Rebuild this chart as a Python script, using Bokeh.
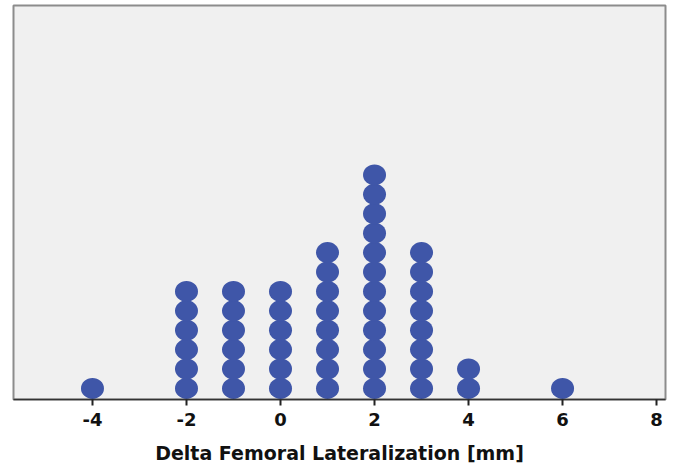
from bokeh.plotting import figure
from bokeh.models import ColumnDataSource, FixedTicker, Range1d
from bokeh.embed import file_html
from bokeh.resources import INLINE

# data: value (mm) and number of cases at that value
values = [-4, -2, -1, 0, 1, 2, 3, 4, 6]
counts = [1, 6, 6, 6, 8, 12, 8, 2, 1]
tick_values = [-4, -2, 0, 2, 4, 6, 8]
tick_labels = ["-4", "-2", "0", "2", "4", "6", "8"]

xs, ys = [], []
for v, c in zip(values, counts):
    for k in range(c):
        xs.append(v)
        ys.append(k + 0.57)
src = ColumnDataSource(dict(x=xs, y=ys))

p = figure(width=668, height=466, output_backend="svg", toolbar_location=None,
           x_range=Range1d(-5.68, 8.19), y_range=Range1d(0, 20.3),
           min_border_left=13, min_border_right=3, min_border_top=5, min_border_bottom=0)
p.background_fill_color = "#f0f0f0"
p.border_fill_color = "white"
p.outline_line_color = "#8c8c8c"
p.outline_line_width = 2
p.grid.visible = False
p.yaxis.visible = False

p.ellipse(x="x", y="y", width=23, height=21, width_units="screen", height_units="screen",
          source=src, fill_color="#3f56a8", line_color="#3f56a8", line_width=0)

ax = p.xaxis[0]
ax.ticker = FixedTicker(ticks=tick_values)
ax.major_label_overrides = {t: s for t, s in zip(tick_values, tick_labels)}
ax.minor_tick_line_color = None
ax.axis_line_color = "#333333"
ax.axis_line_width = 1.5
ax.major_tick_line_color = "#222222"
ax.major_tick_line_width = 2
ax.major_tick_out = 6
ax.major_tick_in = 0
ax.major_label_text_font = "DejaVu Sans"
ax.major_label_text_font_style = "bold"
ax.major_label_text_font_size = "18px"
ax.major_label_text_color = "#111111"
ax.major_label_standoff = 7
ax.axis_label = "Delta Femoral Lateralization [mm]"
ax.axis_label_text_font = "DejaVu Sans"
ax.axis_label_text_font_style = "bold"
ax.axis_label_text_font_size = "19px"
ax.axis_label_text_color = "#111111"
ax.axis_label_standoff = 13

open("out.html", "w").write(file_html(p, INLINE))
